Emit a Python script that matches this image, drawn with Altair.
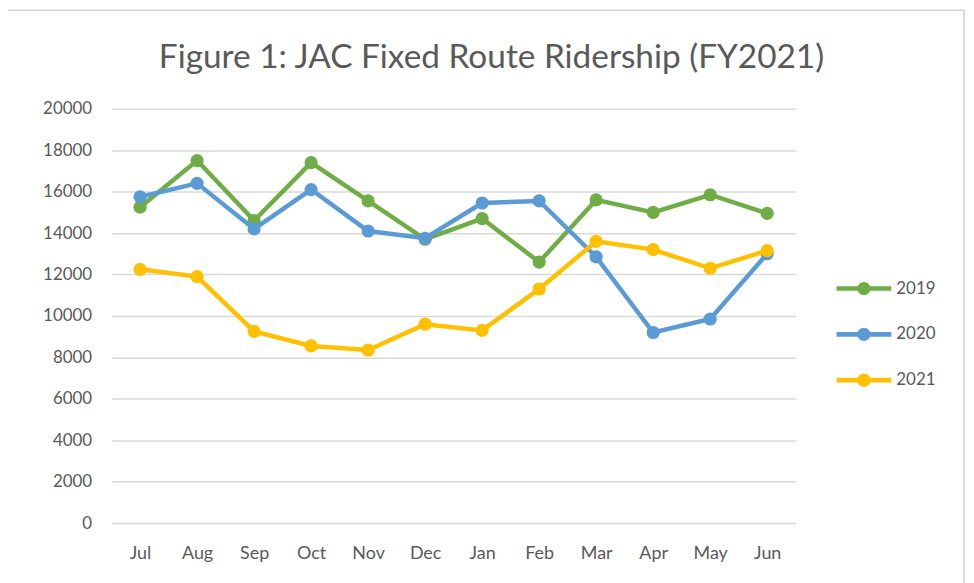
import altair as alt
import pandas as pd

months = ["Jul", "Aug", "Sep", "Oct", "Nov", "Dec", "Jan", "Feb", "Mar", "Apr", "May", "Jun"]
series = ["2019", "2020", "2021"]
v2019 = [15250, 17500, 14600, 17400, 15550, 13700, 14700, 12600, 15600, 15000, 15850, 14950]
v2020 = [15750, 16400, 14200, 16100, 14100, 13750, 15450, 15550, 12850, 9200, 9850, 13000]
v2021 = [12250, 11900, 9250, 8550, 8350, 9600, 9300, 11300, 13600, 13200, 12300, 13150]
colors = ["#70AD47", "#5B9BD5", "#FFC000"]
y_ticks = [0, 2000, 4000, 6000, 8000, 10000, 12000, 14000, 16000, 18000, 20000]

values = {"2019": v2019, "2020": v2020, "2021": v2021}
rows = []
for s in series:
    for m, v in zip(months, values[s]):
        rows.append({"month": m, "series": s, "riders": v})
df = pd.DataFrame(rows)

FONT = "Lato"
TXT = "#595959"

x_enc = alt.X("month:N", sort=months, scale=alt.Scale(padding=0.5),
              axis=alt.Axis(title=None, labelAngle=0, labelFontSize=18, labelColor=TXT,
                            labelFont=FONT, labelPadding=22, ticks=False, domain=False, grid=False))
y_enc = alt.Y("riders:Q", scale=alt.Scale(domain=[0, 20000], nice=False),
              axis=alt.Axis(title=None, values=y_ticks, labelFontSize=17, labelColor=TXT,
                            labelFont=FONT, labelPadding=20, ticks=False, domain=False,
                            grid=True, gridColor="#D9D9D9", gridWidth=1.5, format="d"))

legend_path = ("M-1,-0.085H1V0.085H-1Z "
               "M-0.24,0A0.24,0.24 0 1,1 0.24,0A0.24,0.24 0 1,1 -0.24,0Z")

layers = []
frame = alt.Chart(alt.Data(values=[{"a": 1}])).mark_rect(
    filled=False, stroke="#D0D0D0", strokeWidth=1.5
).encode(x=alt.value(-106), x2=alt.value(856), y=alt.value(-99), y2=alt.value(600))
layers.append(frame)

for s, c in zip(series, colors):
    sub = df[df["series"] == s]
    line = alt.Chart(sub).mark_line(color=c, strokeWidth=4.5).encode(x=x_enc, y=y_enc)
    pts = alt.Chart(sub).mark_point(filled=True, shape="circle", size=175, opacity=1).encode(
        x=x_enc, y=y_enc,
        color=alt.Color("series:N", scale=alt.Scale(domain=series, range=colors),
                        legend=alt.Legend(title=None, orient="none", legendX=728, legendY=153,
                                          symbolType=legend_path, symbolSize=3025,
                                          symbolStrokeWidth=0, labelFontSize=17,
                                          labelFont=FONT, labelColor=TXT, labelOffset=5,
                                          rowPadding=10))
    )
    layers.append(line)
    layers.append(pts)

chart = alt.layer(*layers).properties(
    width=687, height=416,
    padding={"left": 104, "top": 100, "right": 171, "bottom": 59},
    autosize=alt.AutoSizeParams(type="none"),
    title=alt.TitleParams("Figure 1: JAC Fixed Route Ridership (FY2021)", fontSize=33.5,
                          font=FONT, color=TXT, fontWeight="normal", anchor="middle",
                          frame="group", dx=38, offset=-66)
).configure_view(stroke=None)

chart.save("out.html", embed_options={"renderer": "svg", "actions": False})
